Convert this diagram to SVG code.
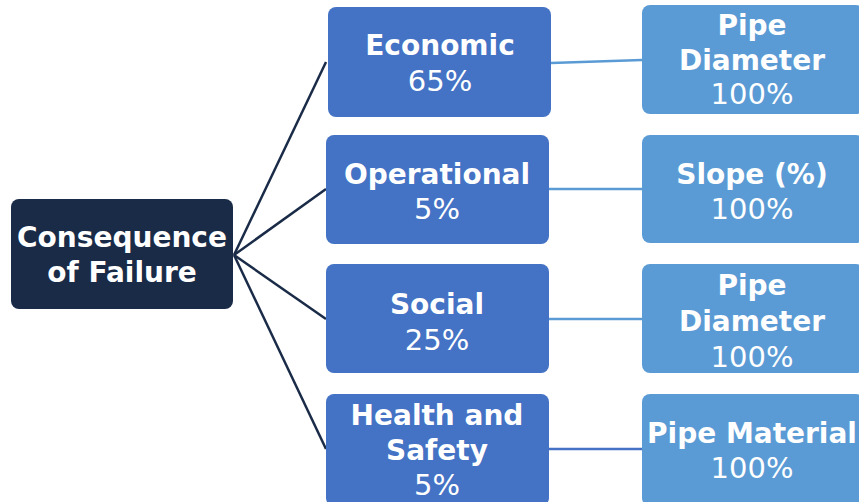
<svg xmlns="http://www.w3.org/2000/svg" width="859" height="502" viewBox="0 0 859 502">
<style>
.root{fill:#1a2b48}
.mid{fill:#4472c4}
.leaf{fill:#5b9bd5}
text{fill:#ffffff;font-family:"DejaVu Sans","Liberation Sans",sans-serif;text-anchor:middle}
.b{font-weight:bold;font-size:28px}
.r{font-size:29px}
.c1{stroke:#1a2b48;stroke-width:2.5;fill:none}
.c2{stroke:#5b9bd5;stroke-width:2.5;fill:none}
.c3{stroke:#4472c4;stroke-width:2.5;fill:none}
</style>
<rect width="859" height="502" fill="#ffffff"/>
<g id="connectors">
<line class="c1" x1="234" y1="255" x2="326" y2="62"/>
<line class="c1" x1="234" y1="255" x2="326" y2="189"/>
<line class="c1" x1="234" y1="255" x2="326" y2="319"/>
<line class="c1" x1="234" y1="255" x2="326" y2="449"/>
<line class="c2" x1="551" y1="63" x2="642" y2="60"/>
<line class="c2" x1="549" y1="189" x2="642" y2="189"/>
<line class="c2" x1="549" y1="319" x2="642" y2="319"/>
<line class="c3" x1="549" y1="449" x2="642" y2="449"/>
</g>
<g id="root">
<rect class="root" x="11" y="199" width="222" height="110" rx="8"/>
<text class="b" x="122" y="247">Consequence</text>
<text class="b" x="122" y="282">of Failure</text>
</g>
<g id="economic">
<rect class="mid" x="328" y="7" width="223" height="110" rx="8"/>
<text class="b" x="440" y="55">Economic</text>
<text class="r" x="440" y="91">65%</text>
</g>
<g id="operational">
<rect class="mid" x="326" y="135" width="223" height="109" rx="8"/>
<text class="b" x="437" y="184">Operational</text>
<text class="r" x="437" y="219">5%</text>
</g>
<g id="social">
<rect class="mid" x="326" y="264" width="223" height="109" rx="8"/>
<text class="b" x="437" y="314">Social</text>
<text class="r" x="437" y="350">25%</text>
</g>
<g id="health">
<rect class="mid" x="326" y="394" width="223" height="112" rx="8"/>
<text class="b" x="437" y="425">Health and</text>
<text class="b" x="437" y="460">Safety</text>
<text class="r" x="437" y="495">5%</text>
</g>
<g id="pipe-diameter-1">
<rect class="leaf" x="642" y="5" width="222" height="109" rx="8"/>
<text class="b" x="752" y="35">Pipe</text>
<text class="b" x="752" y="70">Diameter</text>
<text class="r" x="752" y="104">100%</text>
</g>
<g id="slope">
<rect class="leaf" x="642" y="135" width="222" height="108" rx="8"/>
<text class="b" x="752" y="184">Slope (%)</text>
<text class="r" x="752" y="219">100%</text>
</g>
<g id="pipe-diameter-2">
<rect class="leaf" x="642" y="264" width="222" height="109" rx="8"/>
<text class="b" x="752" y="295">Pipe</text>
<text class="b" x="752" y="331">Diameter</text>
<text class="r" x="752" y="367">100%</text>
</g>
<g id="pipe-material">
<rect class="leaf" x="642" y="394" width="222" height="112" rx="8"/>
<text class="b" x="752" y="443">Pipe Material</text>
<text class="r" x="752" y="478">100%</text>
</g>
</svg>
